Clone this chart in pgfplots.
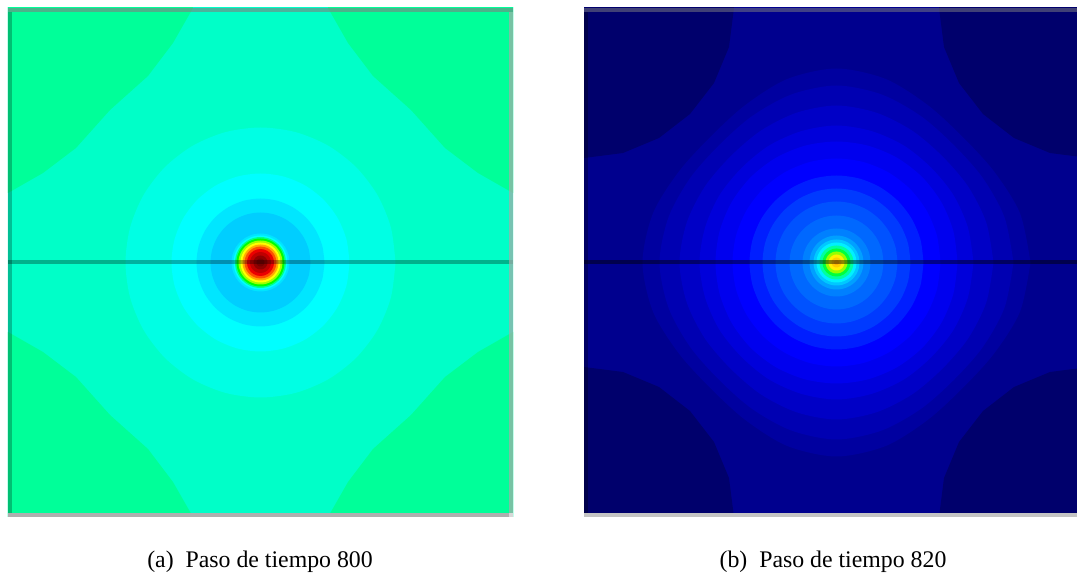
\documentclass[border=0pt]{standalone}
\usepackage{fontspec}
\setmainfont{Liberation Serif}
\usepackage{pgfplots}
\pgfplotsset{compat=1.18}
\usepackage{pgfplotstable}

% contour radii (px) of the bands, by polar angle
\pgfplotstableread{
a  c1  c2 c3 c4 c5 c6 c7   c8 c9 c10 c11 c12 c13  c14  c15 c16
0   135 89 64 50 29 27 25.5 24 22 20  18  16  13.5 10.5 7   4
15  135 89 64 50 29 27 25.5 24 22 20  18  16  13.5 10.5 7   4
30  135 89 64 50 29 27 25.5 24 22 20  18  16  13.5 10.5 7   4
45  135 89 64 50 29 27 25.5 24 22 20  18  16  13.5 10.5 7   4
60  135 89 64 50 29 27 25.5 24 22 20  18  16  13.5 10.5 7   4
75  135 89 64 50 29 27 25.5 24 22 20  18  16  13.5 10.5 7   4
90  135 89 64 50 29 27 25.5 24 22 20  18  16  13.5 10.5 7   4
105 135 89 64 50 29 27 25.5 24 22 20  18  16  13.5 10.5 7   4
120 135 89 64 50 29 27 25.5 24 22 20  18  16  13.5 10.5 7   4
135 135 89 64 50 29 27 25.5 24 22 20  18  16  13.5 10.5 7   4
150 135 89 64 50 29 27 25.5 24 22 20  18  16  13.5 10.5 7   4
165 135 89 64 50 29 27 25.5 24 22 20  18  16  13.5 10.5 7   4
180 135 89 64 50 29 27 25.5 24 22 20  18  16  13.5 10.5 7   4
195 135 89 64 50 29 27 25.5 24 22 20  18  16  13.5 10.5 7   4
210 135 89 64 50 29 27 25.5 24 22 20  18  16  13.5 10.5 7   4
225 135 89 64 50 29 27 25.5 24 22 20  18  16  13.5 10.5 7   4
240 135 89 64 50 29 27 25.5 24 22 20  18  16  13.5 10.5 7   4
255 135 89 64 50 29 27 25.5 24 22 20  18  16  13.5 10.5 7   4
270 135 89 64 50 29 27 25.5 24 22 20  18  16  13.5 10.5 7   4
285 135 89 64 50 29 27 25.5 24 22 20  18  16  13.5 10.5 7   4
300 135 89 64 50 29 27 25.5 24 22 20  18  16  13.5 10.5 7   4
315 135 89 64 50 29 27 25.5 24 22 20  18  16  13.5 10.5 7   4
330 135 89 64 50 29 27 25.5 24 22 20  18  16  13.5 10.5 7   4
345 135 89 64 50 29 27 25.5 24 22 20  18  16  13.5 10.5 7   4
360 135 89 64 50 29 27 25.5 24 22 20  18  16  13.5 10.5 7   4
}\bandsA

\pgfplotstableread{
a   c1  c2  c3  c4  c5  c6  c7 c8 c9 c10 c11 c12 c13 c14 c15 c16 c17 c18 c19 c20
0   194 177 157 137 121 104 87 74 61 47  34  27  23  20  17  14  11  8   5   2.5
15  190 174 155 136 121 104 87 74 61 47  34  27  23  20  17  14  11  8   5   2.5
30  182 169 152 135 121 104 87 74 61 47  34  27  23  20  17  14  11  8   5   2.5
45  178 166 150 134 121 104 87 74 61 47  34  27  23  20  17  14  11  8   5   2.5
60  182 169 152 135 121 104 87 74 61 47  34  27  23  20  17  14  11  8   5   2.5
75  190 174 155 136 121 104 87 74 61 47  34  27  23  20  17  14  11  8   5   2.5
90  194 177 157 137 121 104 87 74 61 47  34  27  23  20  17  14  11  8   5   2.5
105 190 174 155 136 121 104 87 74 61 47  34  27  23  20  17  14  11  8   5   2.5
120 182 169 152 135 121 104 87 74 61 47  34  27  23  20  17  14  11  8   5   2.5
135 178 166 150 134 121 104 87 74 61 47  34  27  23  20  17  14  11  8   5   2.5
150 182 169 152 135 121 104 87 74 61 47  34  27  23  20  17  14  11  8   5   2.5
165 190 174 155 136 121 104 87 74 61 47  34  27  23  20  17  14  11  8   5   2.5
180 194 177 157 137 121 104 87 74 61 47  34  27  23  20  17  14  11  8   5   2.5
195 190 174 155 136 121 104 87 74 61 47  34  27  23  20  17  14  11  8   5   2.5
210 182 169 152 135 121 104 87 74 61 47  34  27  23  20  17  14  11  8   5   2.5
225 178 166 150 134 121 104 87 74 61 47  34  27  23  20  17  14  11  8   5   2.5
240 182 169 152 135 121 104 87 74 61 47  34  27  23  20  17  14  11  8   5   2.5
255 190 174 155 136 121 104 87 74 61 47  34  27  23  20  17  14  11  8   5   2.5
270 194 177 157 137 121 104 87 74 61 47  34  27  23  20  17  14  11  8   5   2.5
285 190 174 155 136 121 104 87 74 61 47  34  27  23  20  17  14  11  8   5   2.5
300 182 169 152 135 121 104 87 74 61 47  34  27  23  20  17  14  11  8   5   2.5
315 178 166 150 134 121 104 87 74 61 47  34  27  23  20  17  14  11  8   5   2.5
330 182 169 152 135 121 104 87 74 61 47  34  27  23  20  17  14  11  8   5   2.5
345 190 174 155 136 121 104 87 74 61 47  34  27  23  20  17  14  11  8   5   2.5
360 194 177 157 137 121 104 87 74 61 47  34  27  23  20  17  14  11  8   5   2.5
}\bandsB

\definecolor{aBlob}{RGB}{0,255,153}
\definecolor{aBase}{RGB}{0,255,200}
\definecolor{a1}{RGB}{0,255,228}
\definecolor{a2}{RGB}{0,255,255}
\definecolor{a3}{RGB}{0,230,255}
\definecolor{a4}{RGB}{0,206,255}
\definecolor{a5}{RGB}{0,228,255}
\definecolor{a6}{RGB}{0,255,255}
\definecolor{a7}{RGB}{0,255,140}
\definecolor{a8}{RGB}{0,255,0}
\definecolor{a9}{RGB}{160,255,0}
\definecolor{a10}{RGB}{255,255,0}
\definecolor{a11}{RGB}{255,170,0}
\definecolor{a12}{RGB}{255,80,0}
\definecolor{a13}{RGB}{235,0,0}
\definecolor{a14}{RGB}{190,0,0}
\definecolor{a15}{RGB}{145,0,0}
\definecolor{a16}{RGB}{120,0,0}

\definecolor{bBlob}{RGB}{0,0,108}
\definecolor{bBase}{RGB}{0,0,142}
\definecolor{b1}{RGB}{0,0,160}
\definecolor{b2}{RGB}{0,0,178}
\definecolor{b3}{RGB}{0,0,198}
\definecolor{b4}{RGB}{0,0,218}
\definecolor{b5}{RGB}{0,0,238}
\definecolor{b6}{RGB}{0,0,255}
\definecolor{b7}{RGB}{0,30,255}
\definecolor{b8}{RGB}{0,58,255}
\definecolor{b9}{RGB}{0,82,255}
\definecolor{b10}{RGB}{0,104,255}
\definecolor{b11}{RGB}{0,128,255}
\definecolor{b12}{RGB}{0,160,255}
\definecolor{b13}{RGB}{0,200,255}
\definecolor{b14}{RGB}{0,240,255}
\definecolor{b15}{RGB}{0,255,160}
\definecolor{b16}{RGB}{0,255,60}
\definecolor{b17}{RGB}{150,255,0}
\definecolor{b18}{RGB}{255,240,0}
\definecolor{b19}{RGB}{255,205,0}
\definecolor{b20}{RGB}{255,180,0}

\pgfplotsset{
  panel/.style={anchor=south west, scale only axis, width=212.1pt, height=213.78pt,
    hide axis, xmin=-252.5, xmax=252.5, ymin=-254.5, ymax=254.5},
  band/.style={draw=none, fill=#1, smooth, data cs=polar},
}

\begin{document}
\begin{tikzpicture}[x=0.42pt,y=0.42pt]
\useasboundingbox (0,0) rectangle (1077,586);
\clip (0,0) rectangle (1077,586);

% ---------- (a) ----------
\begin{axis}[panel, at={(8,69)}]
\addplot[fill=aBase, draw=none] coordinates {(-270,-270) (270,-270) (270,270) (-270,270)};
\addplot[fill=aBlob, draw=none] coordinates {(-67.5,254.5) (-87.5,219.5) (-112.5,186.5) (-150.5,152.5) (-184.5,114.5) (-217.5,89.5) (-252.5,69.5) (-270,69.5) (-270,270) (-67.5,270)};
\addplot[fill=aBlob, draw=none] coordinates {(67.5,254.5) (87.5,219.5) (112.5,186.5) (150.5,152.5) (184.5,114.5) (217.5,89.5) (252.5,69.5) (270,69.5) (270,270) (67.5,270)};
\addplot[fill=aBlob, draw=none] coordinates {(-67.5,-254.5) (-87.5,-219.5) (-112.5,-186.5) (-150.5,-152.5) (-184.5,-114.5) (-217.5,-89.5) (-252.5,-69.5) (-270,-69.5) (-270,-270) (-67.5,-270)};
\addplot[fill=aBlob, draw=none] coordinates {(67.5,-254.5) (87.5,-219.5) (112.5,-186.5) (150.5,-152.5) (184.5,-114.5) (217.5,-89.5) (252.5,-69.5) (270,-69.5) (270,-270) (67.5,-270)};
\pgfplotsinvokeforeach{1,...,16}{
  \addplot[band=a#1] table[x=a, y=c#1] {\bandsA};
}
\addplot[draw=black, opacity=0.3, line width=1.68pt] coordinates {(-252.5,0) (252.5,0)};
% frame
\addplot[fill=gray, fill opacity=0.6, draw=none] coordinates {(-252.5,250.5) (252.5,250.5) (252.5,254.5) (-252.5,254.5)};
\addplot[fill=black, fill opacity=0.25, draw=none] coordinates {(-252.5,-254.5) (-248.5,-254.5) (-248.5,250.5) (-252.5,250.5)};
\addplot[fill={rgb,255:red,170;green,170;blue,170}, fill opacity=0.7, draw=none] coordinates {(248.5,-250.5) (252.5,-250.5) (252.5,250.5) (248.5,250.5)};
\addplot[fill={rgb,255:red,175;green,175;blue,175}, draw=none] coordinates {(-252.5,-254.5) (248.5,-254.5) (248.5,-250.5) (-252.5,-250.5)};
\addplot[fill={rgb,255:red,216;green,216;blue,216}, draw=none] coordinates {(248.5,-254.5) (252.5,-254.5) (252.5,-250.5) (248.5,-250.5)};
\end{axis}

% ---------- (b) ----------
\begin{axis}[panel, at={(584,69)}]
\addplot[fill=bBase, draw=none] coordinates {(-270,-270) (270,-270) (270,270) (-270,270)};
\addplot[fill=bBlob, draw=none] coordinates {(-102.5,254.5) (-107.5,215.5) (-122.5,179.5) (-146.5,148.5) (-177.5,124.5) (-213.5,109.5) (-252.5,104.5) (-270,104.5) (-270,270) (-102.5,270)};
\addplot[fill=bBlob, draw=none] coordinates {(102.5,254.5) (107.5,215.5) (122.5,179.5) (146.5,148.5) (177.5,124.5) (213.5,109.5) (252.5,104.5) (270,104.5) (270,270) (102.5,270)};
\addplot[fill=bBlob, draw=none] coordinates {(-102.5,-254.5) (-107.5,-215.5) (-122.5,-179.5) (-146.5,-148.5) (-177.5,-124.5) (-213.5,-109.5) (-252.5,-104.5) (-270,-104.5) (-270,-270) (-102.5,-270)};
\addplot[fill=bBlob, draw=none] coordinates {(102.5,-254.5) (107.5,-215.5) (122.5,-179.5) (146.5,-148.5) (177.5,-124.5) (213.5,-109.5) (252.5,-104.5) (270,-104.5) (270,-270) (102.5,-270)};
\pgfplotsinvokeforeach{1,...,20}{
  \addplot[band=b#1] table[x=a, y=c#1] {\bandsB};
}
\addplot[draw=black, opacity=0.45, line width=1.68pt] coordinates {(-252.5,0) (252.5,0)};
% frame
\addplot[fill=gray, fill opacity=0.5, draw=none] coordinates {(-252.5,250.5) (252.5,250.5) (252.5,254.5) (-252.5,254.5)};
\addplot[fill=black, fill opacity=0.3, draw=none] coordinates {(-252.5,-254.5) (-248.5,-254.5) (-248.5,250.5) (-252.5,250.5)};
\addplot[fill={rgb,255:red,196;green,196;blue,196}, draw=none] coordinates {(-252.5,-254.5) (252.5,-254.5) (252.5,-250.5) (-252.5,-250.5)};
\end{axis}

\node[font=\fontsize{10}{12}\selectfont] at (260,24) {(a)\hspace{0.5em}Paso de tiempo 800};
\node[font=\fontsize{10}{12}\selectfont] at (833,24) {(b)\hspace{0.5em}Paso de tiempo 820};
\end{tikzpicture}
\end{document}
